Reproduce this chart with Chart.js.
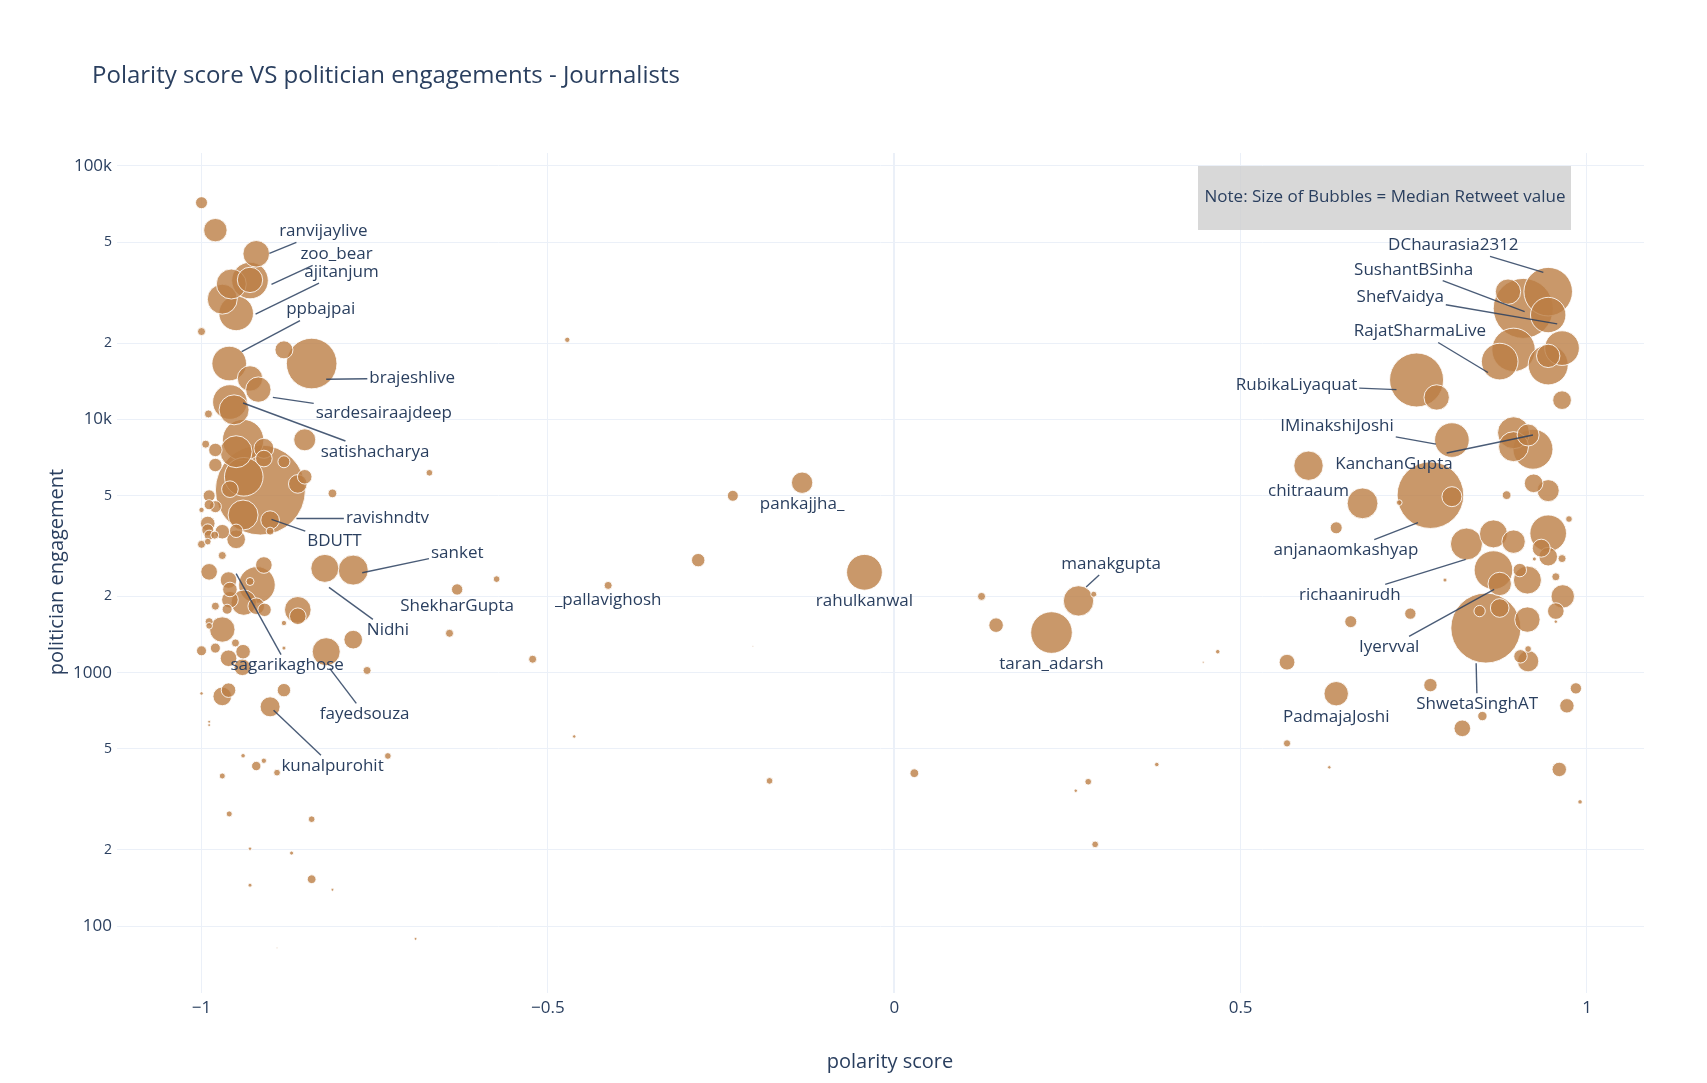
<!DOCTYPE html>
<html>
<head>
<meta charset="utf-8">
<script src="https://cdn.jsdelivr.net/npm/chart.js@4.4.1/dist/chart.umd.min.js"></script>
<style>
  body { margin: 0; background: #fff; }
  canvas { display: block; }
</style>
</head>
<body>
<canvas id="chart" width="1707" height="1083" style="width:1707px;height:1083px"></canvas>
<script>
// bubble data: polarity score, politician engagement, median retweets (bubble area)
// the first 7 points carry a plain label under the bubble (see handles)
const polarity = [
  -0.133, -0.413, -0.043, 0.227, -0.631, 0.598, 0.638,
  -1.000, -0.980, -0.921, -0.970, -0.957, -0.930, -0.930, -0.950, -1.000, -0.960,
  -0.881, -0.841, -0.930, -0.918, -0.959, -0.953, -0.990, -0.851, -0.940, -0.950,
  -0.994, -0.980, -0.910, -0.910, -0.881, -0.980, -0.915, -0.939, -0.851, -0.861,
  -0.811, -0.959, -0.989, -0.980, -0.989, -1.000, -0.940, -0.901, -0.901, -0.991,
  -0.991, -0.989, -0.981, -0.970, -0.950, -0.950, -0.991, -1.000, -0.970, -0.671,
  -0.989, -0.910, -0.920, -0.961, -0.930, -0.959, -0.959, -0.939, -0.921, -0.909,
  -0.980, -0.963, -0.861, -0.861, -0.881, -0.989, -0.989, -0.970, -0.881, -1.000,
  -0.980, -0.951, -0.940, -0.961, -0.941, -0.820, -0.781, -0.761, -0.822, -0.781,
  -1.000, -0.961, -0.970, -0.881, -0.901, -0.989, -0.989, -0.940, -0.921, -0.910,
  -0.970, -0.891, -0.731, -0.960, -0.841, -0.930, -0.870, -0.841, -0.930, -0.811,
  -0.691, -0.891, -0.642, -0.574,
  -0.472, -0.233, -0.283, -0.522, -0.462, -0.180, 0.126, 0.147, 0.266, 0.288,
  0.029, 0.280, 0.262, 0.290, 0.379, 0.446, 0.467, -0.204,
  0.567, 0.567, 0.628, 0.659, 0.745, 0.774, 0.820, 0.849, 0.638, 0.729,
  0.676, 0.754, 0.783, 0.805, 0.894, 0.915, 0.922, 0.894, 0.774, 0.805,
  0.923, 0.944, 0.884, 0.974, 0.964, 0.944, 0.886, 0.908, 0.944, 0.894,
  0.874, 0.944, 0.964, 0.944, 0.826, 0.865, 0.894, 0.944, 0.934, 0.944,
  0.924, 0.964, 0.865, 0.874, 0.903, 0.914, 0.955, 0.965, 0.955, 0.955,
  0.854, 0.845, 0.874, 0.914, 0.915, 0.904, 0.915, 0.984, 0.971, 0.960,
  0.990, 0.795
];
const engagement = [
  5620, 2210, 2490, 1440, 2130, 6560, 826,
  71600, 55800, 45000, 29800, 34200, 35300, 35500, 26200, 22200, 16600,
  18800, 16600, 14500, 13100, 11700, 10900, 10500, 8300, 8280, 7450,
  7980, 7570, 7680, 7000, 6800, 6600, 5260, 5930, 5930, 5560,
  5100, 5300, 4990, 4520, 4600, 4390, 4190, 4000, 3620, 3880,
  3660, 3490, 3490, 3600, 3630, 3360, 3290, 3210, 2900, 6150,
  2500, 2660, 2220, 2320, 2290, 2130, 1940, 1890, 1830, 1770,
  1830, 1780, 1770, 1670, 1570, 1590, 1530, 1480, 1250, 1220,
  1250, 1310, 1210, 1140, 1050, 1210, 1350, 1020, 2580, 2540,
  828, 853, 806, 853, 733, 640, 621, 470, 428, 449,
  391, 403, 469, 277, 264, 202, 194, 153, 145, 139,
  89, 82, 1430, 2340,
  20600, 4990, 2780, 1130, 560, 374, 2000, 1540, 1920, 2040,
  401, 371, 342, 210, 434, 1100, 1210, 1270,
  1100, 526, 423, 1590, 1710, 893, 603, 674, 3730, 4690,
  4660, 14300, 12200, 8280, 8850, 8670, 7620, 7800, 5020, 4950,
  5590, 5230, 5020, 4040, 11900, 31900, 31900, 27400, 25800, 18800,
  16900, 16400, 19100, 17800, 3220, 3530, 3290, 3550, 3100, 2870,
  2810, 2820, 2540, 2240, 2540, 2320, 2390, 2000, 1750, 1590,
  1500, 1750, 1800, 1620, 1110, 1160, 1240, 867, 740, 415,
  309, 2320
];
const medianRetweets = [
  114, 16, 320, 433, 32, 216, 149,
  36, 137, 177, 225, 225, 335, 161, 300, 16, 300,
  81, 640, 161, 161, 300, 225, 16, 121, 428, 256,
  16, 45, 100, 69, 36, 45, 2025, 373, 53, 87,
  19, 69, 36, 36, 25, 7, 225, 87, 16, 53,
  36, 25, 16, 53, 45, 87, 11, 16, 16, 11,
  69, 69, 335, 69, 16, 53, 69, 161, 69, 45,
  16, 25, 177, 69, 7, 16, 11, 161, 4, 25,
  25, 16, 53, 69, 69, 196, 87, 16, 196, 225,
  3, 53, 87, 45, 100, 2, 2, 5, 22, 7,
  9, 11, 11, 9, 11, 3, 4, 19, 4, 2,
  2, 0.5, 16, 11,
  7, 30, 45, 16, 3, 11, 16, 53, 231, 9,
  19, 11, 3, 11, 5, 1, 5, 0.5,
  62, 13, 3, 36, 32, 45, 69, 22, 36, 8,
  237, 729, 161, 300, 256, 121, 400, 225, 1110, 100,
  87, 121, 19, 11, 87, 590, 161, 900, 313, 470,
  335, 400, 300, 137, 256, 196, 137, 335, 81, 87,
  4, 16, 373, 137, 45, 196, 16, 137, 69, 3,
  1225, 32, 87, 161, 114, 45, 11, 32, 52, 52,
  5, 4
];
const handles = ['pankajjha_', '_pallavighosh', 'rahulkanwal', 'taran_adarsh', 'ShekharGupta', 'chitraaum', 'PadmajaJoshi'];

// callout labels: the point each arrow ends on
const calloutNames = ['ranvijaylive', 'zoo_bear', 'ajitanjum', 'ppbajpai', 'brajeshlive', 'sardesairaajdeep',
  'satishacharya', 'ravishndtv', 'BDUTT', 'sanket', 'Nidhi', 'sagarikaghose', 'fayedsouza', 'kunalpurohit',
  'manakgupta', 'DChaurasia2312', 'SushantBSinha', 'ShefVaidya', 'RajatSharmaLive', 'RubikaLiyaquat',
  'IMinakshiJoshi', 'KanchanGupta', 'anjanaomkashyap', 'richaanirudh', 'Iyervval', 'ShwetaSinghAT'];
const calloutX = [-0.902, -0.899, -0.922, -0.942, -0.820, -0.897, -0.940, -0.863, -0.899, -0.768, -0.816, -0.950,
  -0.815, -0.896, 0.277, 0.937, 0.910, 0.957, 0.857, 0.725, 0.782, 0.922, 0.756, 0.825, 0.866, 0.840];
const calloutY = [45200, 34100, 26000, 18500, 14400, 12200, 11600, 4060, 4030, 2480, 2170, 2460,
  1040, 711, 2180, 38000, 26600, 23800, 15300, 13100, 7980, 8670, 3910, 2800, 2130, 1090];
// layout only: text offset (px) from the arrow end
const calloutDx = [54, 65, 86, 79, 86, 111, 132, 91, 63, 95, 59, 51, 35, 59, 25, -90, -111, -157, -68, -100, -99, -139, -72, -116, -105, 1];
const calloutDy = [-22, -30, -42, -42, -1, 16, 49, 0, 22, -20, 43, 92, 46, 56, -23, -27, -42, -27, -41, -4, -18, 29, 28, 36, 58, 41];

const yTicks = [100, 200, 500, 1000, 2000, 5000, 10000, 20000, 50000, 100000];
const xTicks = [-1, -0.5, 0, 0.5, 1];

const FONT = '"Open Sans", "Noto Sans", sans-serif';
const INK = '#2a3f5f';
const GRID = '#ebf0f8';

// draw big bubbles first so the small ones stay visible
let points = polarity.map((x, i) => ({x: x, y: engagement[i], r: Math.sqrt(medianRetweets[i]), i: i}));
points.sort((a, b) => b.r - a.r);

function yLabel(v) {
  if (v === 10000 || v === 100000) return (v / 1000) + 'k';
  if (v === 100 || v === 1000) return String(v);
  return String(v).charAt(0);
}

const decorations = {
  id: 'decorations',
  beforeDatasetsDraw(chart) {
    const c = chart.ctx;
    c.save();
    c.fillStyle = 'rgba(205,205,205,0.78)';
    c.fillRect(1198, 166, 373, 64);
    c.restore();
  },
  afterDatasetsDraw(chart) {
    const c = chart.ctx;
    const xs = chart.scales.x, ys = chart.scales.y;
    c.save();
    // note text
    c.font = '17px ' + FONT;
    c.fillStyle = INK;
    c.textAlign = 'center';
    c.textBaseline = 'middle';
    c.fillText('Note: Size of Bubbles = Median Retweet value', 1385, 197);

    // plain labels below bubbles
    handles.forEach((name, i) => {
      const px = xs.getPixelForValue(polarity[i]);
      const py = ys.getPixelForValue(engagement[i]);
      c.fillText(name, px, py + Math.sqrt(medianRetweets[i]) + 11);
    });

    // callouts with arrows
    calloutNames.forEach((name, i) => {
      const ex = xs.getPixelForValue(calloutX[i]);
      const ey = ys.getPixelForValue(calloutY[i]);
      const tx = ex + calloutDx[i], ty = ey + calloutDy[i];
      const hw = c.measureText(name).width / 2 + 2, hh = 11;
      const dx = ex - tx, dy = ey - ty;
      let t = 1;
      if (dx !== 0) t = Math.min(t, hw / Math.abs(dx));
      if (dy !== 0) t = Math.min(t, hh / Math.abs(dy));
      c.strokeStyle = 'rgba(42,63,95,0.85)';
      c.lineWidth = 1.4;
      c.beginPath();
      c.moveTo(tx + dx * t, ty + dy * t);
      c.lineTo(ex, ey);
      c.stroke();
      c.fillText(name, tx, ty);
    });

    // titles
    c.textAlign = 'left';
    c.font = '24px ' + FONT;
    c.fillText('Polarity score VS politician engagements - Journalists', 92, 76);
    c.textAlign = 'center';
    c.font = '20px ' + FONT;
    c.fillText('polarity score', 890, 1062);
    c.translate(57, 572);
    c.rotate(-Math.PI / 2);
    c.fillText('politician engagement', 0, 0);
    c.restore();
  }
};

new Chart(document.getElementById('chart'), {
  type: 'bubble',
  data: {
    datasets: [{
      data: points,
      backgroundColor: 'rgba(187,126,69,0.8)',
      borderColor: 'rgba(255,255,255,0.85)',
      borderWidth: 1
    }]
  },
  plugins: [decorations],
  options: {
    responsive: false,
    devicePixelRatio: 1,
    animation: false,
    events: [],
    layout: { padding: { top: 153, right: 63, left: 0, bottom: 0 } },
    plugins: { legend: { display: false }, tooltip: { enabled: false }, title: { display: false } },
    scales: {
      x: {
        type: 'linear',
        min: -1.122,
        max: 1.0823,
        afterFit: s => { s.height = 90; },
        afterBuildTicks: s => { s.ticks = xTicks.map(v => ({value: v})); },
        border: { display: false },
        grid: {
          color: GRID,
          lineWidth: ctx => (ctx.tick && ctx.tick.value === 0 ? 2 : 1),
          drawTicks: false
        },
        ticks: {
          padding: 5,
          color: INK,
          font: { family: FONT, size: 17 },
          callback: v => (v < 0 ? '\u2212' + Math.abs(v) : String(v))
        }
      },
      y: {
        type: 'logarithmic',
        min: 54.4,
        max: 112500,
        afterFit: s => { s.width = 117; },
        afterBuildTicks: s => { s.ticks = yTicks.map(v => ({value: v})); },
        border: { display: false },
        grid: { color: GRID, lineWidth: 1, drawTicks: false },
        ticks: {
          padding: 5,
          color: INK,
          autoSkip: false,
          font: ctx => {
            const v = ctx.tick ? ctx.tick.value : 100;
            const minor = String(v).charAt(0) !== '1';
            return { family: FONT, size: minor ? 14 : 17 };
          },
          callback: v => yLabel(v)
        }
      }
    }
  }
});
</script>
</body>
</html>
